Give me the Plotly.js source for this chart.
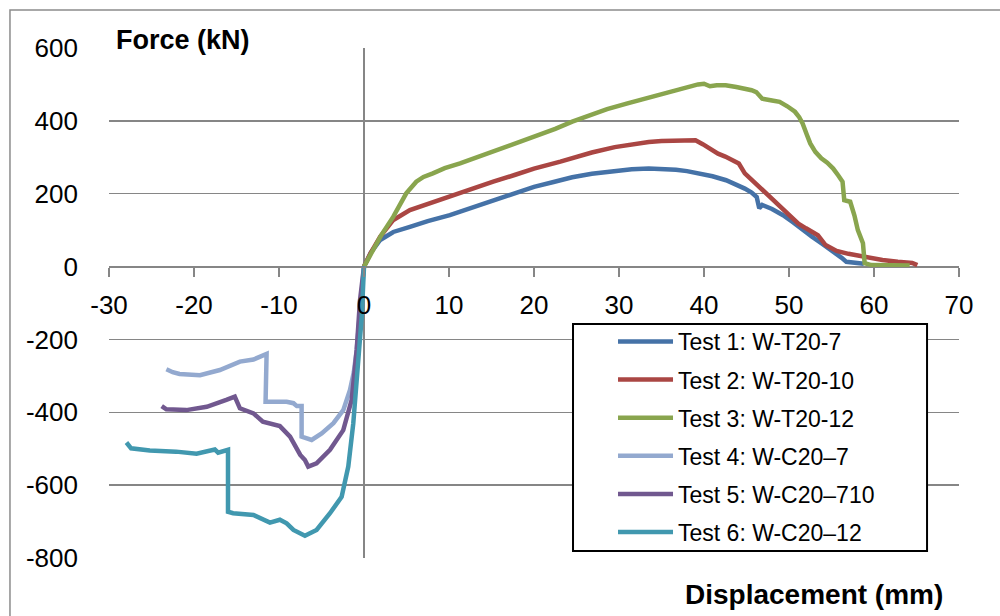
<!DOCTYPE html>
<html>
<head>
<meta charset="utf-8">
<script src="https://cdn.plot.ly/plotly-3.0.1.min.js"></script>
<style>html,body{margin:0;padding:0;background:#fff;}#chart{width:1000px;height:616px;}</style>
</head>
<body>
<div id="chart"></div>
<script>
// Test 1: W-T20-7
var t1x = [0, 0.8, 1.9, 3.45, 5.4, 7.5, 10.1, 13.2, 15.2, 17.8, 20, 22.3, 24.5, 26.8, 29.5, 31.5, 33.5, 35, 36.7, 38, 39.4, 41, 42.6, 43.8, 44.8, 45.6, 46.2, 46.5, 46.85, 48, 49.3, 50.5, 51.6, 52.7, 53.8, 54.8, 55.6, 56.2, 56.75, 57.8, 58.8];
var t1y = [0, 38, 73, 95, 109, 125, 141, 165, 182, 200, 219, 232, 245, 255, 263, 267, 269, 269, 266, 262, 256, 248, 237, 226, 214, 203, 191, 160, 169, 158, 141, 121, 100, 82, 64, 48, 36, 24, 13, 10, 8];
// Test 2: W-T20-10
var t2x = [0, 0.8, 1.9, 3.45, 5.4, 7.5, 10.1, 13.2, 15.2, 17.8, 20, 23.1, 26.8, 29.5, 31.5, 33.5, 35, 36.7, 38, 39, 39.85, 40.8, 41.65, 42.5, 43.45, 44.1, 44.8, 46, 47.1, 48.2, 49.3, 50.2, 51.1, 52, 53.4, 54.3, 55.6, 57, 58.3, 61, 62.8, 64.5, 65.1];
var t2y = [0, 38, 82, 128, 155, 172, 191, 215, 233, 252, 269, 288, 313, 328, 336, 342, 345, 347, 346, 347, 336, 322, 310, 302, 292, 283, 256, 230, 205, 182, 160, 138, 118, 105, 86, 59, 43, 35, 29, 18, 13, 10, 4];
// Test 3: W-T20-12
var t3x = [0, 1.0, 2.0, 3.45, 4.97, 6.15, 7.0, 8.1, 9.5, 11.3, 13.2, 15.2, 17.5, 20, 22.5, 24.5, 26.5, 28.6, 31, 33.5, 36, 38, 39.3, 40, 40.7, 41.5, 42.55, 43.8, 44.8, 45.6, 46.15, 46.85, 48, 48.9, 49.8, 50.7, 51.2, 51.6, 52.1, 52.5, 53.1, 53.8, 54.5, 55.2, 55.8, 56.3, 56.5, 57.2, 57.7, 58.1, 58.7, 58.9, 59.7, 62, 64.2];
var t3y = [0, 45, 85, 137, 201, 233, 246, 256, 270, 283, 299, 315, 334, 356, 378, 398, 415, 432, 448, 464, 480, 493, 500, 502, 495, 498, 498, 493, 489, 484, 479, 461, 456, 452, 440, 425, 410, 393, 362, 338, 315, 297, 285, 269, 250, 233, 182, 178, 140, 100, 64, 9, 4, 4, 3];
// Test 4: W-C20-7
var t4x = [-23.25, -22.5, -21.7, -19.3, -16.96, -14.6, -13.0, -11.46, -11.58, -9.1, -8.3, -7.9, -7.34, -7.34, -6.16, -4.98, -3.6, -2.44, -1.65, -1.2, -0.86, -0.27, 0];
var t4y = [-282, -290, -295, -298, -284, -261, -255, -240, -371, -371, -375, -383, -383, -467, -476, -458, -430, -394, -339, -290, -229, -92, 0];
// Test 5: W-C20-710
var t5x = [-23.8, -23.25, -20.9, -18.5, -16.2, -15.2, -14.6, -13.0, -11.9, -9.9, -8.7, -7.5, -6.95, -6.56, -5.58, -4.0, -2.44, -1.45, -0.86, -0.47, 0];
var t5y = [-383, -392, -394, -385, -366, -357, -389, -403, -426, -438, -467, -517, -531, -549, -540, -503, -449, -366, -229, -92, 0];
// Test 6: W-C20-12
var t6x = [-27.95, -27.4, -25.2, -22.1, -19.7, -17.55, -17.16, -16.0, -16.0, -15.4, -13.0, -11.07, -9.9, -9.1, -8.3, -6.95, -5.58, -4.0, -2.63, -1.85, -1.26, -0.67, -0.27, 0];
var t6y = [-483, -499, -505, -508, -514, -502, -511, -503, -673, -677, -682, -703, -695, -705, -723, -739, -723, -677, -632, -549, -430, -275, -138, 0];

var names = ['Test 1: W-T20-7', 'Test 2: W-T20-10', 'Test 3: W-T20-12', 'Test 4: W-C20\u20137', 'Test 5: W-C20\u2013710', 'Test 6: W-C20\u201312'];
var colors = ['#4572A7', '#AA4643', '#89A54E', '#93A9CF', '#71588F', '#4198AF'];
var xs = [t1x, t2x, t3x, t4x, t5x, t6x];
var ys = [t1y, t2y, t3y, t4y, t5y, t6y];

var xTicks = [-30, -20, -10, 0, 10, 20, 30, 40, 50, 60, 70];
var yTicks = [-800, -600, -400, -200, 0, 200, 400, 600];

var traces = [];
for (var i = 0; i < 6; i++) {
  traces.push({
    x: xs[i], y: ys[i], name: names[i], type: 'scatter', mode: 'lines',
    legendgroup: 'g' + i,
    line: {color: colors[i], width: 4.5}
  });
}

var FONT = 'Liberation Sans, Arial, sans-serif';
var layout = {
  width: 1000, height: 616,
  margin: {l: 109, r: 41, t: 48, b: 58},
  paper_bgcolor: '#fff', plot_bgcolor: '#fff',
  showlegend: true,
  font: {family: FONT, color: '#000'},
  xaxis: {
    range: [-30, 70], tickvals: xTicks, ticktext: xTicks.map(String), showgrid: false,
    zeroline: true, zerolinecolor: '#868686', zerolinewidth: 1.5,
    showline: true, linecolor: '#868686', linewidth: 1.5,
    anchor: 'free', position: 800 / 1400,
    ticks: 'outside', ticklen: 9, tickwidth: 1.5, tickcolor: '#868686',
    tickfont: {size: 26, family: FONT, color: '#000'},
    ticklabelstandoff: 6
  },
  yaxis: {
    range: [-800, 600], tickvals: yTicks, ticktext: yTicks.map(String), showgrid: true,
    gridcolor: '#868686', gridwidth: 1.5,
    zeroline: false, showline: false, ticks: '',
    tickfont: {size: 26, family: FONT, color: '#000'},
    ticklabelstandoff: 30
  },
  legend: {
    x: 0.5459, y: 0.4666, xanchor: 'left', yanchor: 'top',
    bgcolor: 'rgba(0,0,0,0)', borderwidth: 0,
    font: {size: 23, family: FONT, color: '#000'},
    tracegroupgap: 5.2, indentation: 40, itemwidth: 55
  },
  shapes: [
    {type: 'rect', xref: 'paper', yref: 'paper', x0: -0.1165, x1: 1.06, y0: -0.15, y1: 1.0745,
     line: {color: '#8c8c8c', width: 1.5}, fillcolor: 'rgba(0,0,0,0)', layer: 'below'},
    {type: 'rect', xref: 'paper', yref: 'paper', x0: 0.5459, x1: 0.9624, y0: 0.0137, y1: 0.4588,
     line: {color: '#000', width: 2}, fillcolor: '#fff', layer: 'above'}
  ],
  annotations: [
    {text: '<b>Force (kN)</b>', xref: 'paper', yref: 'paper', x: 0.006, y: 1.0157,
     xanchor: 'left', yanchor: 'middle', showarrow: false, font: {size: 27, family: FONT, color: '#000'}},
    {text: '<b>Displacement (mm)</b>', xref: 'paper', yref: 'paper', x: 0.9835, y: -0.072,
     xanchor: 'right', yanchor: 'middle', showarrow: false, font: {size: 28, family: FONT, color: '#000'}}
  ]
};

Plotly.newPlot('chart', traces, layout, {displayModeBar: false, staticPlot: true});
</script>
</body>
</html>
